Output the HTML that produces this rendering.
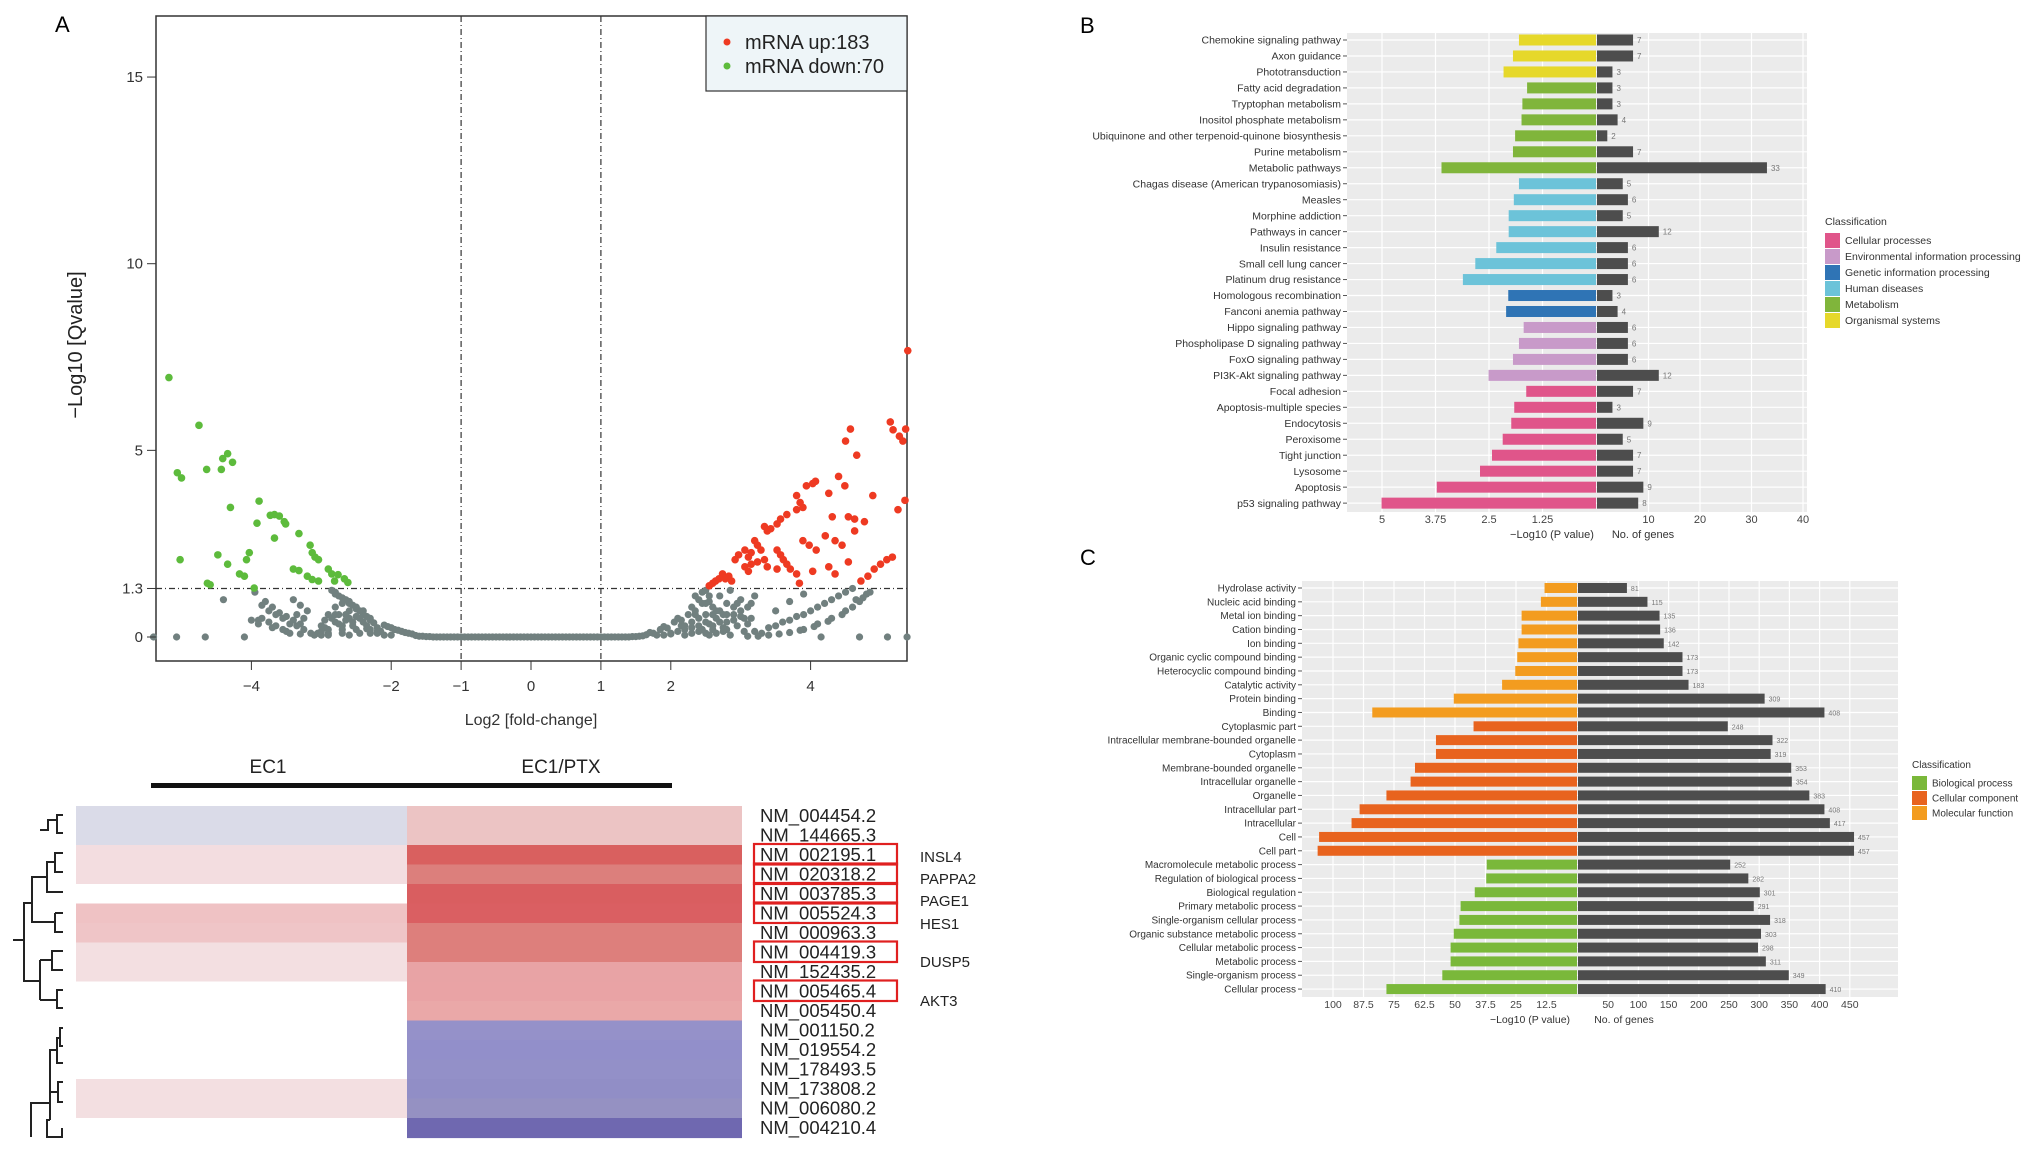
<!DOCTYPE html>
<html><head><meta charset="utf-8">
<style>
html,body{margin:0;padding:0;background:#fff;}
svg{display:block;font-family:"Liberation Sans",Arial,sans-serif;}
</style></head>
<body>
<svg id="fig" width="2031" height="1153" viewBox="0 0 2031 1153" xmlns="http://www.w3.org/2000/svg">
<rect width="2031" height="1153" fill="#fff"/>
<g id="pa"></g>
<g id="ph"></g>
<g id="pb"></g>
<g id="pc"></g>
</svg>
<script>
// ===== Panel A data =====
const greenX=[-5.18,-5.06,-5.0,-5.02,-4.75,-4.64,-4.63,-4.59,-4.48,-4.43,-4.41,-4.34,-4.27,-4.3,-4.34,-4.17,-4.1,-4.07,-4.03,-3.96,-3.89,-3.92,-3.73,-3.67,-3.6,-3.53,-3.51,-3.67,-3.32,-3.4,-3.32,-3.16,-3.13,-3.09,-3.04,-3.2,-3.13,-3.04,-2.9,-2.85,-2.76,-2.67,-2.62,-2.81];
const greenY=[6.95,4.40,4.26,2.07,5.67,4.49,1.44,1.40,2.2,4.49,4.78,4.91,4.68,3.47,1.95,1.69,1.63,2.07,2.26,1.31,3.64,3.05,3.26,3.28,3.24,3.09,3.03,2.65,2.77,1.82,1.78,2.46,2.26,2.14,2.07,1.63,1.54,1.5,1.82,1.69,1.67,1.56,1.46,1.5];
const redX=[4.57,4.66,4.5,5.14,5.18,5.27,5.32,5.36,5.39,5.35,5.25,4.89,4.4,4.49,4.03,4.07,3.94,3.8,3.85,3.89,3.8,3.66,3.57,3.52,3.43,3.38,3.34,4.26,4.31,4.54,4.63,4.77,3.89,3.98,4.08,4.21,4.35,4.45,4.63,3.2,3.24,3.29,3.15,3.11,3.06,2.97,2.92,3.52,3.57,3.61,3.66,3.71,3.52,3.38,2.74,2.78,2.83,2.87,2.69,2.64,2.55,2.6,3.06,3.15,3.24,3.34,3.11,3.8,3.84,4.03,4.26,4.35,4.54,4.72,4.82,4.91,5.0,5.09,5.17];
const redY=[5.57,4.87,5.25,5.76,5.55,5.38,5.25,5.57,7.67,3.66,3.41,3.79,4.3,4.05,4.11,4.17,4.05,3.79,3.6,3.47,3.41,3.28,3.16,3.03,2.9,2.84,2.96,3.85,3.22,3.22,3.16,3.09,2.58,2.46,2.33,2.71,2.58,2.46,2.84,2.58,2.46,2.33,2.26,2.14,2.33,2.2,2.07,2.33,2.2,2.07,1.95,1.82,1.82,1.88,1.69,1.56,1.63,1.5,1.56,1.5,1.37,1.44,1.88,1.95,2.01,2.07,1.76,1.69,1.44,1.76,1.88,1.69,2.01,1.5,1.63,1.82,1.95,2.07,2.14];
const greyX=[-1.6,-1.55,-1.5,-1.45,-1.4,-1.35,-1.3,-1.25,-1.2,-1.15,-1.1,-1.05,-1.0,-0.95,-0.9,-0.85,-0.8,-0.75,-0.7,-0.65,-0.6,-0.55,-0.5,-0.45,-0.4,-0.35,-0.3,-0.25,-0.2,-0.15,-0.1,-0.05,0,0.05,0.1,0.15,0.2,0.25,0.3,0.35,0.4,0.45,0.5,0.55,0.6,0.65,0.7,0.75,0.8,0.85,0.9,0.95,1.0,1.05,1.1,1.15,1.2,1.25,1.3,1.35,1.4,1.45,1.5,1.55,1.6,
-1.7,-1.9,-2.1,-2.3,-2.5,-2.6,-2.7,-2.8,-2.9,-2.8,-2.7,-2.6,-2.5,-2.4,-2.3,-2.2,-2.9,-2.8,-2.6,-3.0,-3.05,-2.7,-2.5,-2.4,-2.95,-2.75,-2.0,-2.15,-2.35,
-3.1,-3.3,-3.5,-3.7,-3.9,-4.0,-3.3,-3.4,-3.5,-3.6,-3.7,-3.8,-3.95,-3.2,-3.3,-3.4,-4.4,-5.4,-5.07,-4.66,-4.1,
1.7,1.9,2.1,2.3,2.4,2.5,2.0,2.2,2.3,2.4,2.5,2.6,2.7,2.8,2.6,2.8,2.9,2.75,2.95,3.0,3.1,3.2,3.15,2.5,2.65,3.05,2.85,1.8,2.15,2.35,2.55,
3.2,3.4,3.6,3.8,4.0,4.2,4.4,4.6,3.1,3.4,3.7,3.9,4.1,4.3,4.5,4.7,4.85,3.5,3.7,3.9,4.15,4.7,5.1,5.38];
const greyY=[0.02,0.02,0.01,0.01,0,0,0,0,0,0,0,0,0,0,0,0,0,0,0,0,0,0,0,0,0,0,0,0,0,0,0,0,0,0,0,0,0,0,0,0,0,0,0,0,0,0,0,0,0,0,0,0,0,0,0,0,0,0,0,0,0,0.01,0.01,0.02,0.03,
0.08,0.18,0.32,0.5,0.75,0.9,1.05,1.2,0.2,0.4,0.3,0.5,0.2,0.4,0.1,0.25,0.6,0.8,0.7,0.3,0.1,0.1,0.55,0.7,0.45,0.6,0.05,0.15,0.22,
0.05,0.08,0.15,0.25,0.35,0.45,0.35,0.45,0.55,0.65,0.8,0.95,1.2,0.7,0.85,1.0,1.0,0,0,0,0,
0.12,0.28,0.5,0.8,1.0,1.25,0.1,0.2,0.4,0.3,0.6,0.8,1.1,0.9,0.2,0.4,0.6,0.15,0.3,1.0,0.8,1.1,0.5,0.9,0.5,0.15,1.25,0.05,0.3,0.6,0.35,
0.15,0.25,0.4,0.55,0.7,0.9,1.1,1.3,0.02,0.05,0.12,0.2,0.35,0.5,0.7,0.95,1.2,0.7,0.95,1.15,0,0,0,0];
const greyX2=[-1.65,-1.75,-1.8,-1.85,-1.95,-2.0,-2.05,-2.1,-2.2,-2.25,-2.3,-2.35,-2.4,-2.45,-2.5,-2.55,-2.6,-2.65,-2.7,-2.75,-2.8,-2.85,-2.9,-2.95,-3.0,-2.45,-2.55,-2.65,-2.75,-2.85,-2.35,-2.45,-2.55,-2.65,-2.2,-2.3,-2.6,-2.7,-2.8,-2.9,-3.0,-3.15,-3.25,-3.35,-3.45,-3.55,-3.65,-3.75,-3.85,-3.45,-3.55,-3.65,-3.75,-3.85,-3.9,-3.35,-3.25,
1.65,1.75,1.85,1.95,2.05,2.15,2.25,2.35,2.45,2.55,1.9,2.0,2.1,2.2,2.3,2.4,2.5,2.6,2.7,2.8,2.9,3.0,2.2,2.3,2.4,2.5,2.6,2.7,2.8,2.9,3.0,3.1,2.45,2.55,2.65,2.75,2.85,2.95,3.05,3.15,2.35,2.45,2.55,2.65,2.75,3.3,3.5,3.7,3.9,4.1,4.3,4.5,4.65,4.8,3.25,3.55,3.85,4.05,4.25,4.45,4.6,4.75];
const greyY2=[0.04,0.1,0.12,0.15,0.2,0.25,0.28,0.05,0.15,0.38,0.45,0.55,0.6,0.7,0.8,0.85,0.95,1.0,0.9,1.1,1.15,1.25,0.1,0.25,0.05,0.1,0.3,0.45,0.35,0.5,0.3,0.5,0.4,0.6,0.1,0.2,0.05,0.2,0.6,0.05,0.15,0.1,0.2,0.3,0.35,0.5,0.6,0.7,0.85,0.1,0.2,0.3,0.4,0.5,0.45,0.6,0.5,
0.06,0.1,0.2,0.24,0.4,0.45,0.6,0.7,0.9,1.1,0.05,0.08,0.15,0.3,0.25,0.5,0.4,0.6,0.7,0.6,0.8,0.55,0.05,0.1,0.15,0.1,0.3,0.4,0.2,0.45,0.7,0.35,0.2,0.05,0.7,0.25,0.05,0.9,0.5,0.9,1.1,1.2,0.95,0.1,0.6,0.1,0.3,0.45,0.6,0.8,1.0,1.2,1.0,1.15,0.02,0.08,0.18,0.28,0.42,0.6,0.8,1.05];
const volXTicks=[-4,-2,-1,0,1,2,4];
const volYTicks=[0,1.3,5,10,15];

// ===== Heatmap data =====
const genes=["NM_004454.2","NM_144665.3","NM_002195.1","NM_020318.2","NM_003785.3","NM_005524.3","NM_000963.3","NM_004419.3","NM_152435.2","NM_005465.4","NM_005450.4","NM_001150.2","NM_019554.2","NM_178493.5","NM_173808.2","NM_006080.2","NM_004210.4"];
const ec1Colors=["#dadbe8","#dadbe8","#f3dde0","#f3dde0","#ffffff","#efc2c4","#efc5c7","#f3dfe1","#f3dfe1","#ffffff","#ffffff","#ffffff","#ffffff","#ffffff","#f3dfe1","#f3dfe1","#ffffff"];
const ptxColors=["#ecc4c4","#ecc4c4","#d9605f","#dc7f7c","#d95e60","#da5f62","#dd7f7c","#dd7f7c","#e8a3a5","#e9a3a5","#eaa8a8","#9591c9","#928fca","#9390c8","#918ec6","#9591c2","#6f68b0"];
const boxedRows=[2,3,4,5,7,9];
const geneNames=["INSL4","PAPPA2","PAGE1","HES1","DUSP5","AKT3"];
const geneNameY=[857,879,901,924,962,1001];

// ===== Panel B data =====
const keggLabels=["Chemokine signaling pathway","Axon guidance","Phototransduction","Fatty acid degradation","Tryptophan metabolism","Inositol phosphate metabolism","Ubiquinone and other terpenoid-quinone biosynthesis","Purine metabolism","Metabolic pathways","Chagas disease (American trypanosomiasis)","Measles","Morphine addiction","Pathways in cancer","Insulin resistance","Small cell lung cancer","Platinum drug resistance","Homologous recombination","Fanconi anemia pathway","Hippo signaling pathway","Phospholipase D signaling pathway","FoxO signaling pathway","PI3K-Akt signaling pathway","Focal adhesion","Apoptosis-multiple species","Endocytosis","Peroxisome","Tight junction","Lysosome","Apoptosis","p53 signaling pathway"];
const keggP=[1.80,1.94,2.16,1.61,1.72,1.74,1.89,1.94,3.61,1.80,1.92,2.04,2.04,2.33,2.82,3.11,2.05,2.10,1.69,1.80,1.94,2.51,1.63,1.91,1.98,2.18,2.43,2.71,3.72,5.01];
const keggN=[7,7,3,3,3,4,2,7,33,5,6,5,12,6,6,6,3,4,6,6,6,12,7,3,9,5,7,7,9,8];
const keggClass=[5,5,5,4,4,4,4,4,4,3,3,3,3,3,3,3,2,2,1,1,1,1,0,0,0,0,0,0,0,0];
const keggClassNames=["Cellular processes","Environmental information processing","Genetic information processing","Human diseases","Metabolism","Organismal systems"];
const keggClassColors=["#e0558a","#c89ac9","#2f74b5","#6cc3d9","#80b53b","#e6d82a"];
const keggPTicks=[5,3.75,2.5,1.25];
const keggNTicks=[10,20,30,40];

// ===== Panel C data =====
const goLabels=["Hydrolase activity","Nucleic acid binding","Metal ion binding","Cation binding","Ion binding","Organic cyclic compound binding","Heterocyclic compound binding","Catalytic activity","Protein binding","Binding","Cytoplasmic part","Intracellular membrane-bounded organelle","Cytoplasm","Membrane-bounded organelle","Intracellular organelle","Organelle","Intracellular part","Intracellular","Cell","Cell part","Macromolecule metabolic process","Regulation of biological process","Biological regulation","Primary metabolic process","Single-organism cellular process","Organic substance metabolic process","Cellular metabolic process","Metabolic process","Single-organism process","Cellular process"];
const goP=[13.3,14.8,22.7,22.7,24.0,24.5,25.3,30.7,50.5,83.9,42.4,57.8,57.8,66.4,68.2,78.1,89.1,92.4,105.7,106.3,37.0,37.2,41.9,47.7,48.2,50.5,51.8,51.8,55.2,78.1];
const goN=[81,115,135,136,142,173,173,183,309,408,248,322,319,353,354,383,408,417,457,457,252,282,301,291,318,303,298,311,349,410];
const goClass=[2,2,2,2,2,2,2,2,2,2,1,1,1,1,1,1,1,1,1,1,0,0,0,0,0,0,0,0,0,0];
const goClassNames=["Biological process","Cellular component","Molecular function"];
const goClassColors=["#7ab83a","#e8631e","#f39c1f"];
const goPTicks=[100,87.5,75,62.5,50,37.5,25,12.5];
const goNTicks=[50,100,150,200,250,300,350,400,450];

const NS="http://www.w3.org/2000/svg";
function mk(parent,tag,attrs,text){const e=document.createElementNS(NS,tag);for(const k in attrs)e.setAttribute(k,attrs[k]);if(text!==undefined)e.textContent=text;parent.appendChild(e);return e;}

// ===== Panel A =====
(function(){
const g=document.getElementById('pa');
const X=v=>531+v*69.9, Y=v=>637-v*37.33;
let t=mk(g,'text',{x:55,y:32,'font-size':22},'A');


let fr=mk(g,'rect',{x:156,y:16,width:751,height:645,fill:'none',stroke:'#333','stroke-width':1.5});


[-1,1].forEach(v=>{const l=mk(g,'line',{x1:X(v),x2:X(v),y1:16,y2:661,stroke:'#333','stroke-dasharray':'6,3,1,3','stroke-width':1.2});

});
let hl=mk(g,'line',{x1:156,x2:907,y1:Y(1.3),y2:Y(1.3),stroke:'#333','stroke-dasharray':'6,3,1,3','stroke-width':1.2});


for(let i=0;i<greyX.length;i++){const c=mk(g,'circle',{cx:X(greyX[i]),cy:Y(greyY[i]),r:3.6,fill:'#71807f'});

}
for(let i=0;i<greyX2.length;i++){const c=mk(g,'circle',{cx:X(greyX2[i]),cy:Y(greyY2[i]),r:3.6,fill:'#71807f'});

}
for(let i=0;i<greenX.length;i++){const c=mk(g,'circle',{cx:X(greenX[i]),cy:Y(greenY[i]),r:3.8,fill:'#5dbb3c'});

}
for(let i=0;i<redX.length;i++){const c=mk(g,'circle',{cx:X(redX[i]),cy:Y(redY[i]),r:3.8,fill:'#ee3a22'});

}
volXTicks.forEach(v=>{mk(g,'line',{x1:X(v),x2:X(v),y1:661,y2:670,stroke:'#333'});
const tl=mk(g,'text',{x:X(v),y:691,'font-size':15,'text-anchor':'middle',fill:'#333'},v<0?'\u2212'+(-v):String(v));

});
volYTicks.forEach(v=>{mk(g,'line',{x1:147,x2:156,y1:Y(v),y2:Y(v),stroke:'#333'});
const tl=mk(g,'text',{x:143,y:Y(v)+5,'font-size':15,'text-anchor':'end',fill:'#333'},String(v));

});
let xt=mk(g,'text',{x:531,y:725,'font-size':16,'text-anchor':'middle',fill:'#333'},'Log2 [fold-change]');


let yt=mk(g,'text',{x:0,y:0,'font-size':20,'text-anchor':'middle',fill:'#222',transform:'translate(82,345) rotate(-90)'},'\u2212Log10 [Qvalue]');


let lg=mk(g,'g',{});


mk(lg,'rect',{x:706,y:16,width:201,height:75,fill:'#eef5f8',stroke:'#333','stroke-width':1.2});
mk(lg,'circle',{cx:727,cy:42,r:3.5,fill:'#ee3a22'});
mk(lg,'circle',{cx:727,cy:66,r:3.5,fill:'#5dbb3c'});
let e1=mk(lg,'text',{x:745,y:49,'font-size':20,fill:'#222'},'mRNA up:183');


let e2=mk(lg,'text',{x:745,y:73,'font-size':20,fill:'#222'},'mRNA down:70');


})();

// ===== Heatmap =====
(function(){
const g=document.getElementById('ph');
const top=806,rh=19.5;
let a=mk(g,'text',{x:268,y:773,'font-size':19,'text-anchor':'middle',fill:'#222'},'EC1');


let b=mk(g,'text',{x:561,y:773,'font-size':19,'text-anchor':'middle',fill:'#222'},'EC1/PTX');


let bar=mk(g,'rect',{x:151,y:783,width:521,height:5,fill:'#111'});


genes.forEach((n,i)=>{
 const y=top+i*rh;
 const c1=mk(g,'rect',{x:76,y:y,width:331,height:rh+0.6,fill:ec1Colors[i]});
 
 
 const c2=mk(g,'rect',{x:407,y:y,width:335,height:rh+0.6,fill:ptxColors[i]});
 
 
 const t=mk(g,'text',{x:760,y:y+16,'font-size':18.5,fill:'#222'},n);
 
 
});
boxedRows.forEach(i=>{const r=mk(g,'rect',{x:754,y:top+i*rh-1,width:143,height:rh+1,fill:'none',stroke:'#e02020','stroke-width':2.2});

});
geneNames.forEach((n,i)=>{const t=mk(g,'text',{x:920,y:geneNameY[i]+5,'font-size':15,fill:'#222'},n);

});
const d=mk(g,'path',{d:'M63 815 H57 V833 H63 M57 820 H48 V830 H40 M63 853 H55 V872 H63 M55 862 H47 V892 H63 M47 877 H32 V922 H55 M55 913 V932 H63 M55 913 H63 M32 903 H24 V981 H40 M24 940 H13 M40 960 V1000 M40 960 H52 V951 H63 M52 951 V970 H63 M40 1000 H57 V990 H63 M57 990 V1008 H63 M63 1028 H60 V1046 H63 M60 1038 H57 V1063 H63 M57 1050 H50 V1085 M63 1082 H58 V1102 H63 M58 1092 H50 M50 1072 V1120 M50 1103 H31 V1137 M31 1103 V1137 M50 1120 H47 V1137 H62 V1128',fill:'none',stroke:'#222','stroke-width':2});


})();

// ===== generic diverging bar chart =====
function divChart(g,o){
 const xl=v=>o.zero-v*o.ps, xr=v=>o.zeroR+v*o.ns;
 const bg=mk(g,'rect',{x:o.x0,y:o.y0,width:o.x1-o.x0,height:o.y1-o.y0,fill:'#ebebeb'});
 
 
 o.pTicks.forEach(v=>{mk(g,'line',{x1:xl(v),x2:xl(v),y1:o.y0,y2:o.y1,stroke:'#fff','stroke-width':1.2});
  const t=mk(g,'text',{x:xl(v),y:o.tickY,'font-size':o.tfs,'text-anchor':'middle',fill:'#444'},String(v));
  
  });
 o.nTicks.forEach(v=>{mk(g,'line',{x1:xr(v),x2:xr(v),y1:o.y0,y2:o.y1,stroke:'#fff','stroke-width':1.2});
  const t=mk(g,'text',{x:xr(v),y:o.tickY,'font-size':o.tfs,'text-anchor':'middle',fill:'#444'},String(v));
  
  });
 o.labels.forEach((lab,i)=>{
  const y=o.r0+i*o.rs;
  mk(g,'line',{x1:o.x0,x2:o.x1,y1:y,y2:y,stroke:'#fff','stroke-width':1.2});
  const b1=mk(g,'rect',{x:xl(o.p[i]),y:y-o.bh/2,width:o.p[i]*o.ps,height:o.bh,fill:o.colors[o.cls[i]]});
  
  
  const b2=mk(g,'rect',{x:o.zeroR,y:y-o.bh/2,width:o.n[i]*o.ns,height:o.bh,fill:'#4d4d4d'});
  
  
  const nl=mk(g,'text',{x:xr(o.n[i])+4,y:y+3,'font-size':o.nfs,fill:'#777'},String(o.n[i]));
  
  
  mk(g,'line',{x1:o.x0-4,x2:o.x0,y1:y,y2:y,stroke:'#555'});
  const tl=mk(g,'text',{x:o.x0-6,y:y+o.lfs*0.35,'font-size':o.lfs,'text-anchor':'end',fill:'#333'},lab);
  
  
 });
 const t1=mk(g,'text',{x:o.pTitleX,y:o.titleY,'font-size':o.tfs,'text-anchor':'middle',fill:'#333'},'\u2212Log10 (P value)');
 
 
 const t2=mk(g,'text',{x:o.nTitleX,y:o.titleY,'font-size':o.tfs,'text-anchor':'middle',fill:'#333'},'No. of genes');
 
 
 const lg=mk(g,'g',{});
 
 
 mk(lg,'text',{x:o.lgx,y:o.lgy,'font-size':o.lfs,fill:'#333'},'Classification');
 o.classNames.forEach((n,i)=>{
  const y=o.lgy+8+i*o.lgs;
  const s=mk(lg,'rect',{x:o.lgx,y:y,width:15,height:o.lgs-1,fill:o.colors[i]});
  
  
  const t=mk(lg,'text',{x:o.lgx+20,y:y+o.lgs*0.7,'font-size':o.lfs,fill:'#333'},n);
  
  
 });
}

(function(){
const g=document.getElementById('pb');
const t=mk(g,'text',{x:1080,y:33,'font-size':22},'B');


divChart(g,{x0:1347,x1:1807,y0:33,y1:512,zero:1596,ps:42.8,zeroR:1597,ns:5.15,r0:40,rs:15.97,bh:11,
labels:keggLabels,p:keggP,n:keggN,cls:keggClass,colors:keggClassColors,classNames:keggClassNames,
pTicks:keggPTicks,nTicks:keggNTicks,tickY:523,titleY:538,pTitleX:1552,nTitleX:1643,tfs:11,lfs:10.5,nfs:8,
lgx:1825,lgy:225,lgs:16});
})();

(function(){
const g=document.getElementById('pc');
const t=mk(g,'text',{x:1080,y:565,'font-size':22},'C');


divChart(g,{x0:1302,x1:1898,y0:581,y1:997,zero:1577,ps:2.44,zeroR:1578,ns:0.604,r0:588,rs:13.83,bh:10,
labels:goLabels,p:goP,n:goN,cls:goClass,colors:goClassColors,classNames:goClassNames,
pTicks:goPTicks,nTicks:goNTicks,tickY:1008,titleY:1023,pTitleX:1530,nTitleX:1624,tfs:10.5,lfs:10,nfs:7,
lgx:1912,lgy:768,lgs:15});
})();
</script>
</body></html>
